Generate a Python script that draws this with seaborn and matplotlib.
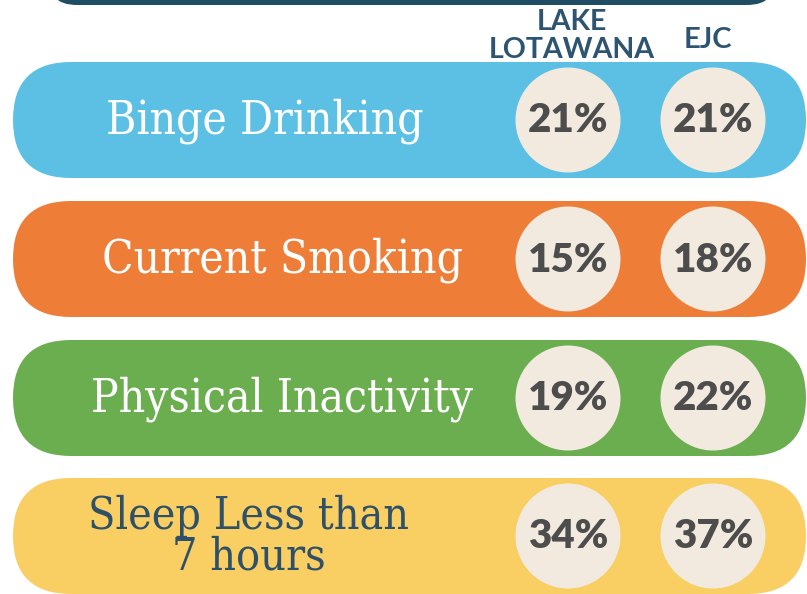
import matplotlib
matplotlib.use("Agg")
import matplotlib.pyplot as plt
from matplotlib.patches import FancyBboxPatch
import seaborn as sns
import pandas as pd

# ---- data ----
categories = ["Binge Drinking", "Current Smoking", "Physical Inactivity", "Sleep Less than\n7 hours"]
lake_lotawana = [21, 15, 19, 34]
ejc = [21, 18, 22, 37]
column_labels = ["LAKE\nLOTAWANA", "EJC"]

# ---- styling / layout ----
pill_colors = ["#5CC0E4", "#EE7D37", "#6BAE4F", "#F9CF63"]
label_colors = ["white", "white", "white", "#2E5068"]
label_x = [265, 282, 282, 249]
label_size = [33, 33, 33, 32]
row_y = [120, 259, 398, 536]
col_x = [568, 713]
W, H = 807, 594

sns.set_theme(style="white")
fig = plt.figure(figsize=(W / 100, H / 100), dpi=100)
ax = fig.add_axes([0, 0, 1, 1])
ax.set_xlim(0, W)
ax.set_ylim(H, 0)
ax.axis("off")

# top navy bar
ax.add_patch(FancyBboxPatch((47, -80), 730, 85, boxstyle="round,pad=0,rounding_size=30",
                            fc="#1F4E64", ec="none"))

# column headers
ax.text(col_x[0] + 4, 36, column_labels[0], ha="center", va="center", fontsize=20.5,
        fontweight="bold", color="#2D5470", family="Lato", linespacing=1.1)
ax.text(col_x[1] - 5, 40, column_labels[1], ha="center", va="center", fontsize=21,
        fontweight="bold", color="#2D5470", family="Lato")

# pills
for y, c in zip(row_y, pill_colors):
    ax.add_patch(FancyBboxPatch((13, y - 58), 793, 116, boxstyle="round,pad=0,rounding_size=58",
                                fc=c, ec="none"))

# labels
for cat, x, y, tc, fs in zip(categories, label_x, row_y, label_colors, label_size):
    ax.text(x, y + 1, cat, ha="center", va="center", fontsize=fs, color=tc,
            family="DejaVu Serif", fontstretch="condensed", linespacing=0.92)

# circles via seaborn
rows = []
for i, (a, b) in enumerate(zip(lake_lotawana, ejc)):
    rows.append({"x": col_x[0], "y": row_y[i], "val": a})
    rows.append({"x": col_x[1], "y": row_y[i], "val": b})
df = pd.DataFrame(rows)
diam_pt = 105 * 72 / 100
sns.scatterplot(data=df, x="x", y="y", s=diam_pt ** 2, color="#F3EADF", edgecolor="none",
                linewidth=0, ax=ax, legend=False, zorder=3)
for _, r in df.iterrows():
    ax.text(r["x"], r["y"] + 1, f"{r['val']}%", ha="center", va="center", fontsize=29,
            fontweight="heavy", color="#4D4D4D", family="Lato", zorder=4)

ax.set_xlim(0, W)
ax.set_ylim(H, 0)
fig.savefig("out.png", dpi=100)
